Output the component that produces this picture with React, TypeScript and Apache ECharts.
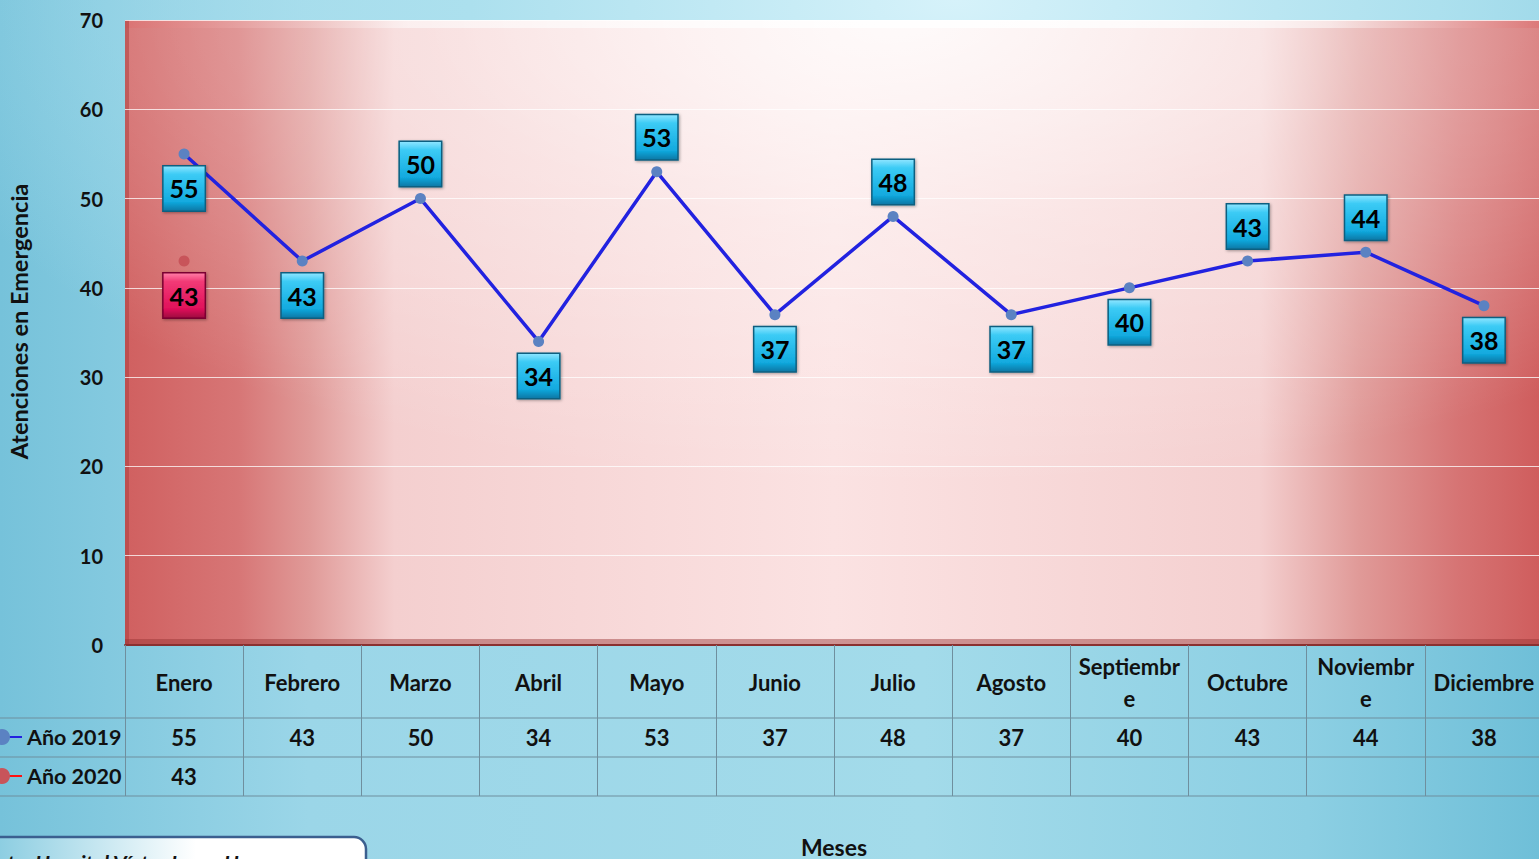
import React, { useEffect, useRef } from "react";
import * as echarts from "echarts";

const months = ["Enero", "Febrero", "Marzo", "Abril", "Mayo", "Junio", "Julio", "Agosto", "Septiembre", "Octubre", "Noviembre", "Diciembre"];
const monthTickLabels = ["Enero", "Febrero", "Marzo", "Abril", "Mayo", "Junio", "Julio", "Agosto", "Septiembr\ne", "Octubre", "Noviembr\ne", "Diciembre"];
const values2019 = [55, 43, 50, 34, 53, 37, 48, 37, 40, 43, 44, 38];
const values2020: (number | null)[] = [43, null, null, null, null, null, null, null, null, null, null, null];
const seriesNames = ["Año 2019", "Año 2020"];
const placement2019 = ["bottom", "bottom", "top", "bottom", "top", "bottom", "top", "bottom", "bottom", "top", "top", "bottom"];
const yMin = 0;
const yMax = 70;
const yInterval = 10;

const FONT = 'Lato, "Open Sans", sans-serif';

const blueBox = {
  type: "linear", x: 0, y: 0, x2: 0, y2: 1,
  colorStops: [
    { offset: 0, color: "#8ae4ff" },
    { offset: 0.18, color: "#3ccbf5" },
    { offset: 0.8, color: "#12aadf" },
    { offset: 1, color: "#0a7aa8" },
  ],
};
const redBox = {
  type: "linear", x: 0, y: 0, x2: 0, y2: 1,
  colorStops: [
    { offset: 0, color: "#ff7aa4" },
    { offset: 0.18, color: "#f23a76" },
    { offset: 0.8, color: "#e0105a" },
    { offset: 1, color: "#a00640" },
  ],
};

function boxLabel(bg: any, border: string) {
  return {
    show: true,
    distance: 7,
    color: "#000",
    fontFamily: FONT,
    fontSize: 25,
    fontWeight: "bold",
    backgroundColor: bg,
    borderColor: border,
    borderWidth: 1.5,
    width: 41,
    height: 44,
    lineHeight: 44,
    padding: 0,
    shadowColor: "rgba(0,0,0,0.35)",
    shadowBlur: 3,
    shadowOffsetX: 1,
    shadowOffsetY: 1,
  };
}

export default function App() {
  const ref = useRef<HTMLDivElement>(null);
  useEffect(() => {
    if (!ref.current) return;
    const chart = echarts.init(ref.current, undefined, { renderer: "svg" });
    const plotX = 125, plotY = 20, plotW = 1418, plotH = 625;
    const tableText = { fontFamily: FONT, fontSize: 22, fontWeight: "bold", color: "#111" };
    chart.setOption({
      animation: false,
      backgroundColor: "transparent",
      grid: { left: 125, right: -4, top: 20, bottom: 214, containLabel: false, outerBoundsMode: "none" },
      legend: {
        data: seriesNames,
        orient: "vertical",
        left: -24,
        top: 721,
        itemGap: 17,
        itemWidth: 40,
        itemHeight: 20,
        textStyle: { ...tableText, fontSize: 21.5, lineHeight: 22 },
      },
      xAxis: [
        {
          type: "category",
          data: months,
          position: "bottom",
          boundaryGap: true,
          name: "Meses",
          nameLocation: "middle",
          nameGap: 190,
          nameTextStyle: { fontFamily: FONT, fontSize: 23, fontWeight: "bold", color: "#111" },
          axisLine: { show: true, lineStyle: { color: "#8a3030", width: 2 } },
          axisTick: { show: true, length: 151, lineStyle: { color: "#6f8f9e", width: 1 } },
          axisLabel: {
            ...tableText,
            margin: 37,
            verticalAlign: "middle",
            lineHeight: 32,
            interval: 0,
            formatter: (_v: string, i: number) => monthTickLabels[i],
          },
        },
        {
          type: "category",
          data: months,
          position: "bottom",
          axisLine: { show: false },
          axisTick: { show: false },
          axisLabel: {
            ...tableText,
            margin: 92,
            verticalAlign: "middle",
            interval: 0,
            formatter: (_v: string, i: number) => (values2019[i] == null ? "" : String(values2019[i])),
          },
        },
        {
          type: "category",
          data: months,
          position: "bottom",
          axisLine: { show: false },
          axisTick: { show: false },
          axisLabel: {
            ...tableText,
            margin: 131,
            verticalAlign: "middle",
            interval: 0,
            formatter: (_v: string, i: number) => (values2020[i] == null ? "" : String(values2020[i])),
          },
        },
      ],
      yAxis: {
        type: "value",
        min: yMin,
        max: yMax,
        interval: yInterval,
        name: "Atenciones en Emergencia",
        nameLocation: "middle",
        nameGap: 94,
        nameRotate: 90,
        nameTextStyle: { fontFamily: FONT, fontSize: 23.5, fontWeight: "bold", color: "#111", padding: [0, 0, 0, 22] },
        axisLine: { show: false },
        axisTick: { show: false },
        axisLabel: { margin: 22, fontFamily: FONT, fontSize: 20, fontWeight: "bold", color: "#111" },
        splitLine: { show: true, lineStyle: { color: "rgba(255,255,255,0.75)", width: 1 } },
      },
      graphic: [
        {
          type: "rect", z: -20, silent: true,
          shape: { x: plotX, y: plotY, width: plotW, height: plotH },
          style: {
            fill: {
              type: "linear", x: 0, y: 0, x2: 1, y2: 0,
              colorStops: [
                { offset: 0, color: "#d06060" },
                { offset: 0.08, color: "#d77676" },
                { offset: 0.13, color: "#e09a98" },
                { offset: 0.19, color: "#f4cfcf" },
                { offset: 0.5, color: "#fbe2e2" },
                { offset: 0.8, color: "#f4cfcf" },
                { offset: 0.87, color: "#e09a98" },
                { offset: 0.94, color: "#d67474" },
                { offset: 1, color: "#cf5c5c" },
              ],
            },
          },
        },
        {
          type: "rect", z: -19, silent: true,
          shape: { x: plotX, y: plotY, width: plotW, height: plotH },
          style: {
            fill: {
              type: "radial", x: 0.55, y: 0.0, r: 0.75,
              colorStops: [
                { offset: 0, color: "rgba(255,255,255,0.85)" },
                { offset: 0.45, color: "rgba(255,255,255,0.35)" },
                { offset: 1, color: "rgba(255,255,255,0)" },
              ],
            },
          },
        },
        {
          type: "rect", z: -18, silent: true,
          shape: { x: plotX, y: plotY, width: plotW, height: 8 },
          style: {
            fill: {
              type: "linear", x: 0, y: 0, x2: 1, y2: 0,
              colorStops: [
                { offset: 0, color: "rgba(220,110,110,0.6)" },
                { offset: 0.2, color: "rgba(255,255,255,0.5)" },
                { offset: 0.6, color: "rgba(255,255,255,0.9)" },
                { offset: 0.85, color: "rgba(255,255,255,0.5)" },
                { offset: 1, color: "rgba(220,110,110,0.6)" },
              ],
            },
          },
        },
        {
          type: "rect", z: -18, silent: true,
          shape: { x: plotX, y: plotY, width: 4, height: plotH },
          style: { fill: "rgba(170,60,60,0.5)" },
        },
        {
          type: "rect", z: -18, silent: true,
          shape: { x: plotX, y: plotY + plotH - 6, width: plotW, height: 6 },
          style: { fill: "rgba(150,50,50,0.45)" },
        },
        ...[718, 757, 796].map((y) => ({
          type: "line", silent: true,
          shape: { x1: 0, y1: y, x2: 1539, y2: y },
          style: { stroke: "#6f8f9e", lineWidth: 1 },
        })),
        {
          type: "rect", silent: true,
          shape: { x: -12, y: 837, width: 378, height: 60, r: 12 },
          style: {
            fill: {
              type: "linear", x: 0, y: 0, x2: 1, y2: 0,
              colorStops: [
                { offset: 0, color: "#86cbe0" },
                { offset: 0.55, color: "#ffffff" },
                { offset: 1, color: "#ffffff" },
              ],
            },
            stroke: "#3b5f8f",
            lineWidth: 2.5,
          },
        },
        {
          type: "text", silent: true,
          x: -36, y: 852,
          style: { text: "Fuente: Hospital Víctor Larco Herrera", font: `italic bold 21px ${FONT}`, fill: "#111" },
        },
      ],
      series: [
        {
          name: seriesNames[0],
          type: "line",
          xAxisIndex: 0,
          data: values2019.map((v, i) => ({ value: v, label: { position: placement2019[i] } })),
          symbol: "circle",
          symbolSize: 11,
          itemStyle: { color: "#5b82c2" },
          lineStyle: { color: "#2222e0", width: 3.5 },
          label: boxLabel(blueBox, "#0b5f80"),
          z: 3,
        },
        {
          name: seriesNames[1],
          type: "line",
          xAxisIndex: 0,
          data: values2020,
          symbol: "circle",
          symbolSize: 11,
          itemStyle: { color: "#c8545a" },
          lineStyle: { color: "#ff1010", width: 3.5 },
          label: { ...boxLabel(redBox, "#7a0030"), position: "bottom" },
          z: 3,
        },
      ],
    });
    return () => chart.dispose();
  }, []);

  return (
    <div
      style={{
        position: "fixed",
        left: 0,
        top: 0,
        width: 1539,
        height: 859,
        overflow: "hidden",
        background:
          "radial-gradient(ellipse 70% 60% at 62% 0%, #d6f2fa 0%, #ace0ee 45%, rgba(150,210,230,0) 100%), linear-gradient(90deg, #76c2da 0%, #9bd6e8 20%, #a3dbea 60%, #8ccfe3 85%, #6fbfd8 100%)",
      }}
    >
      <div ref={ref} style={{ width: 1539, height: 859 }} />
    </div>
  );
}
